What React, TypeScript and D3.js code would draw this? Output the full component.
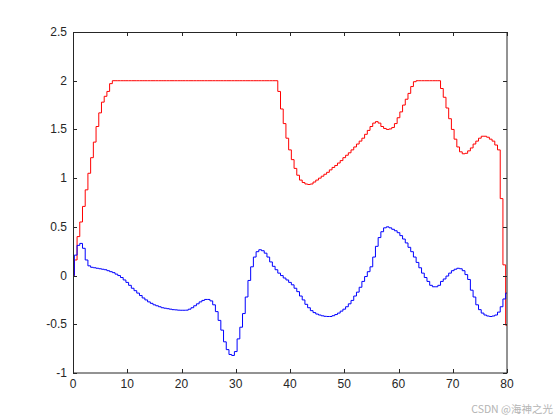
import React from "react";
import * as d3 from "d3";

// Sample grid (s) and read values
const T_START = 0;
const T_STEP = 0.5;

const redValues: number[] = [
  // 0 - 9.5
  0, 0.16, 0.40, 0.55, 0.71, 0.88, 1.05, 1.21, 1.37, 1.53, 1.67, 1.78, 1.84, 1.89, 1.97, 2.0, 2.0, 2.0, 2.0, 2.0,
  // 10 - 19.5
  2.0, 2.0, 2.0, 2.0, 2.0, 2.0, 2.0, 2.0, 2.0, 2.0, 2.0, 2.0, 2.0, 2.0, 2.0, 2.0, 2.0, 2.0, 2.0, 2.0,
  // 20 - 29.5
  2.0, 2.0, 2.0, 2.0, 2.0, 2.0, 2.0, 2.0, 2.0, 2.0, 2.0, 2.0, 2.0, 2.0, 2.0, 2.0, 2.0, 2.0, 2.0, 2.0,
  // 30 - 39.5
  2.0, 2.0, 2.0, 2.0, 2.0, 2.0, 2.0, 2.0, 2.0, 2.0, 2.0, 2.0, 2.0, 2.0, 2.0, 2.0, 1.89, 1.71, 1.56, 1.41,
  // 40 - 49.5
  1.29, 1.19, 1.10, 1.03, 0.98, 0.955, 0.94, 0.935, 0.94, 0.96, 0.98, 1.00, 1.02, 1.04, 1.06, 1.085, 1.11, 1.13, 1.155, 1.18,
  // 50 - 59.5
  1.21, 1.235, 1.26, 1.29, 1.32, 1.35, 1.38, 1.41, 1.45, 1.49, 1.53, 1.565, 1.58, 1.565, 1.53, 1.51, 1.50, 1.505, 1.52, 1.56,
  // 60 - 69.5
  1.62, 1.68, 1.75, 1.81, 1.87, 1.94, 1.99, 2.0, 2.0, 2.0, 2.0, 2.0, 2.0, 2.0, 2.0, 2.0, 1.92, 1.83, 1.72, 1.61,
  // 70 - 79.5
  1.50, 1.40, 1.32, 1.27, 1.25, 1.255, 1.28, 1.31, 1.35, 1.38, 1.41, 1.43, 1.43, 1.42, 1.40, 1.38, 1.34, 1.29, 0.79, 0.11,
  // 80
  -0.51,
];

const blueValues: number[] = [
  // 0 - 9.5
  0, 0.21, 0.31, 0.33, 0.28, 0.16, 0.10, 0.085, 0.08, 0.075, 0.07, 0.065, 0.06, 0.05, 0.04, 0.03, 0.015, 0.0, -0.02, -0.045,
  // 10 - 19.5
  -0.07, -0.10, -0.13, -0.155, -0.18, -0.205, -0.23, -0.25, -0.27, -0.285, -0.30, -0.31, -0.32, -0.33, -0.335, -0.34, -0.345, -0.35, -0.352, -0.355,
  // 20 - 29.5
  -0.356, -0.356, -0.355, -0.345, -0.33, -0.31, -0.29, -0.27, -0.255, -0.245, -0.245, -0.26, -0.30, -0.37, -0.46, -0.56, -0.68, -0.76, -0.81, -0.82,
  // 30 - 39.5
  -0.78, -0.65, -0.53, -0.39, -0.22, -0.05, 0.09, 0.19, 0.245, 0.265, 0.255, 0.23, 0.19, 0.14, 0.095, 0.06, 0.025, 0.0, -0.025, -0.045,
  // 40 - 49.5
  -0.07, -0.095, -0.13, -0.165, -0.21, -0.25, -0.295, -0.33, -0.36, -0.38, -0.395, -0.405, -0.413, -0.418, -0.42, -0.42, -0.412, -0.40, -0.385, -0.365,
  // 50 - 59.5
  -0.345, -0.32, -0.29, -0.255, -0.21, -0.17, -0.12, -0.06, -0.01, 0.04, 0.09, 0.19, 0.30, 0.39, 0.45, 0.49, 0.50, 0.49, 0.475, 0.46,
  // 60 - 69.5
  0.44, 0.41, 0.375, 0.335, 0.29, 0.245, 0.19, 0.135, 0.08, 0.025, -0.02, -0.06, -0.10, -0.115, -0.115, -0.10, -0.06, -0.035, -0.005, 0.025,
  // 70 - 79.5
  0.05, 0.065, 0.075, 0.07, 0.05, 0.01, -0.04, -0.15, -0.22, -0.30, -0.35, -0.385, -0.405, -0.415, -0.42, -0.415, -0.405, -0.375, -0.32, -0.24,
  // 80
  -0.18,
];

const xTicks = [0, 10, 20, 30, 40, 50, 60, 70, 80];
const yTicks = [-1, -0.5, 0, 0.5, 1, 1.5, 2, 2.5];
const xDomain: [number, number] = [0, 80];
const yDomain: [number, number] = [-1, 2.5];
const watermark = "CSDN @海神之光";

const W = 560;
const H = 420;
const M = { left: 73, right: 507, top: 32, bottom: 373 };
const AXIS = "#262626";

export default function App() {
  const times = d3.range(redValues.length).map((i) => T_START + i * T_STEP);
  const x = d3.scaleLinear().domain(xDomain).range([M.left, M.right]);
  const y = d3.scaleLinear().domain(yDomain).range([M.bottom, M.top]);
  const line = d3
    .line<number>()
    .x((_, i) => x(times[i]))
    .y((d) => y(d))
    .curve(d3.curveStep);
  const tickLen = 4;
  const font = "'Liberation Sans', Arial, Helvetica, sans-serif";

  return (
    <svg
      width={W}
      height={H}
      style={{ position: "absolute", left: 0, top: 0, background: "#fff" }}
    >
      <rect x={0} y={0} width={W} height={H} fill="#fff" />
      <path d={line(redValues) || ""} fill="none" stroke="#ff0000" strokeWidth={1} />
      <path d={line(blueValues) || ""} fill="none" stroke="#0000ff" strokeWidth={1} />
      <rect
        x={M.left + 0.5}
        y={M.top + 0.5}
        width={M.right - M.left - 0.5}
        height={M.bottom - M.top - 0.5}
        fill="none"
        stroke={AXIS}
        strokeWidth={1}
      />
      {xTicks.map((t) => (
        <g key={"x" + t}>
          <line x1={Math.round(x(t)) + 0.5} x2={Math.round(x(t)) + 0.5} y1={M.bottom} y2={M.bottom - tickLen} stroke={AXIS} />
          <line x1={Math.round(x(t)) + 0.5} x2={Math.round(x(t)) + 0.5} y1={M.top} y2={M.top + tickLen} stroke={AXIS} />
          <text x={x(t)} y={M.bottom + 15} textAnchor="middle" fontFamily={font} fontSize={12} fill={AXIS}>
            {t}
          </text>
        </g>
      ))}
      {yTicks.map((t) => (
        <g key={"y" + t}>
          <line x1={M.left} x2={M.left + tickLen} y1={Math.round(y(t)) + 0.5} y2={Math.round(y(t)) + 0.5} stroke={AXIS} />
          <line x1={M.right} x2={M.right - tickLen} y1={Math.round(y(t)) + 0.5} y2={Math.round(y(t)) + 0.5} stroke={AXIS} />
          <text x={M.left - 6} y={y(t) + 4} textAnchor="end" fontFamily={font} fontSize={12} fill={AXIS}>
            {t}
          </text>
        </g>
      ))}
      <text
        x={553}
        y={413}
        textAnchor="end"
        fontFamily="'Noto Sans CJK SC', 'Noto Sans', sans-serif"
        fontSize={10.5}
        fill="#b4b4b4"
      >
        {watermark}
      </text>
    </svg>
  );
}
